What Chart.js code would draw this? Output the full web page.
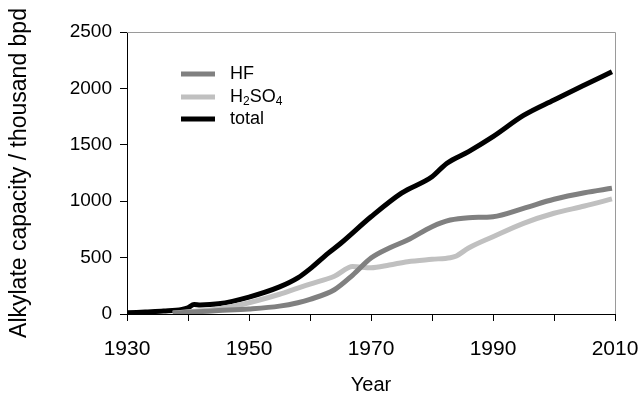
<!DOCTYPE html>
<html>
<head>
<meta charset="utf-8">
<script src="https://cdn.jsdelivr.net/npm/chart.js@4.4.1/dist/chart.umd.min.js"></script>
<style>
  html, body { margin: 0; padding: 0; background: #fff; }
  #wrap { width: 643px; height: 394px; position: relative; }
</style>
</head>
<body>
<div id="wrap"><canvas id="c"></canvas></div>
<script>
// Alkylation capacity by catalyst type, thousand barrels per day.
const HF_YEARS = [1937.5, 1940, 1945, 1950, 1955, 1958, 1960, 1964, 1967, 1970, 1973, 1976, 1980, 1983, 1986, 1990, 1995, 2000, 2005, 2009.5];
const HF_VALUES = [5, 15, 30, 45, 70, 100, 130, 215, 345, 496, 585, 656, 774, 833, 854, 863, 937, 1017, 1075, 1114];

const H2SO4_YEARS = [1937.5, 1940, 1945, 1948, 1950, 1955, 1958, 1960, 1964, 1967, 1970, 1973, 1976, 1980, 1983, 1984, 1986, 1990, 1995, 2000, 2005, 2009.5];
const H2SO4_VALUES = [8, 20, 45, 75, 100, 175, 230, 265, 335, 420, 410, 434, 464, 485, 499, 515, 585, 685, 804, 893, 957, 1020];

const TOTAL_YEARS = [1930, 1933, 1936, 1939, 1940, 1941, 1942, 1945, 1950, 1955, 1958, 1960, 1963, 1965, 1970, 1975, 1980, 1982.4, 1986, 1990, 1995, 2000, 2005, 2009.5];
const TOTAL_VALUES = [10, 18, 26, 40, 55, 85, 80, 90, 150, 240, 320, 400, 540, 625, 862, 1072, 1217, 1335, 1440, 1572, 1760, 1897, 2030, 2148];

const SERIES_LABELS = ['HF', 'H2SO4', 'total'];
const SERIES_COLORS = ['#808080', '#c0c0c0', '#000000'];

const X_MIN = 1930, X_MAX = 2010, X_STEP = 10, X_LABEL_EVERY = 20;
const Y_MIN = 0, Y_MAX = 2500, Y_STEP = 500;

const FONT = '"Liberation Sans", Arial, sans-serif';

function pts(xs, ys) { return xs.map((x, i) => ({ x: x, y: ys[i] })); }

// gray frame on top/right; the axes draw black left/bottom lines over it
const frame = {
  id: 'frame',
  beforeDatasetsDraw(chart) {
    const a = chart.chartArea, ctx = chart.ctx;
    ctx.save();
    ctx.strokeStyle = '#9a9a9a';
    ctx.lineWidth = 1;
    ctx.beginPath();
    ctx.moveTo(a.left, a.top + 0.5);
    ctx.lineTo(a.right + 0.5, a.top + 0.5);
    ctx.lineTo(a.right + 0.5, a.bottom);
    ctx.stroke();
    ctx.restore();
  }
};

// legend inside the plot; digits in "H2SO4" get drawn as subscripts
const innerLegend = {
  id: 'innerLegend',
  afterDatasetsDraw(chart) {
    const ctx = chart.ctx;
    const x0 = 181, x1 = 215, tx = 230;
    const rows = [74, 97, 119];
    ctx.save();
    chart.data.datasets.forEach((ds, i) => {
      const y = rows[i];
      ctx.strokeStyle = ds.borderColor;
      ctx.lineWidth = 5;
      ctx.beginPath();
      ctx.moveTo(x0, y);
      ctx.lineTo(x1, y);
      ctx.stroke();
      ctx.fillStyle = '#000';
      ctx.textBaseline = 'middle';
      let x = tx;
      for (const ch of ds.label) {
        const sub = /[0-9]/.test(ch);
        ctx.font = (sub ? 12 : 18) + 'px ' + FONT;
        ctx.fillText(ch, x, sub ? y + 5 : y);
        x += ctx.measureText(ch).width;
      }
    });
    ctx.restore();
  }
};

const datasets = [
  { label: SERIES_LABELS[0], data: pts(HF_YEARS, HF_VALUES) },
  { label: SERIES_LABELS[1], data: pts(H2SO4_YEARS, H2SO4_VALUES) },
  { label: SERIES_LABELS[2], data: pts(TOTAL_YEARS, TOTAL_VALUES) }
].map((d, i) => Object.assign(d, {
  borderColor: SERIES_COLORS[i],
  backgroundColor: SERIES_COLORS[i],
  borderWidth: 5,
  pointRadius: 0,
  cubicInterpolationMode: 'monotone',
  fill: false,
  borderCapStyle: 'butt',
  borderJoinStyle: 'round'
}));

new Chart(document.getElementById('c'), {
  type: 'line',
  data: { datasets },
  options: {
    responsive: true,
    maintainAspectRatio: false,
    animation: false,
    layout: { padding: { top: 32, right: 28, left: 0, bottom: 0 } },
    plugins: { legend: { display: false }, tooltip: { enabled: false } },
    scales: {
      x: {
        type: 'linear', min: X_MIN, max: X_MAX,
        border: { color: '#000', width: 1 },
        grid: { drawOnChartArea: false, color: '#000', tickLength: 7 },
        ticks: {
          stepSize: X_STEP, color: '#000', padding: 16, maxRotation: 0,
          font: { family: FONT, size: 21 },
          callback: v => (v - X_MIN) % X_LABEL_EVERY === 0 ? String(v) : ''
        },
        title: { display: true, text: 'Year', color: '#000', font: { family: FONT, size: 20 }, padding: { top: 4, bottom: -3 } },
        afterFit: s => { s.height = 80; s.paddingLeft = 0; s.paddingRight = 0; }
      },
      y: {
        min: Y_MIN, max: Y_MAX,
        border: { color: '#000', width: 1 },
        grid: { drawOnChartArea: false, color: '#000', tickLength: 7 },
        ticks: {
          stepSize: Y_STEP, color: '#000', padding: 8, font: { family: FONT, size: 19 },
          callback: v => String(v)
        },
        title: { display: true, text: 'Alkylate capacity / thousand bpd', color: '#000', font: { family: FONT, size: 23 }, padding: { top: 6, bottom: 8 } },
        afterFit: s => { s.width = 127; s.paddingTop = 0; s.paddingBottom = 0; }
      }
    }
  },
  plugins: [frame, innerLegend]
});
</script>
</body>
</html>
